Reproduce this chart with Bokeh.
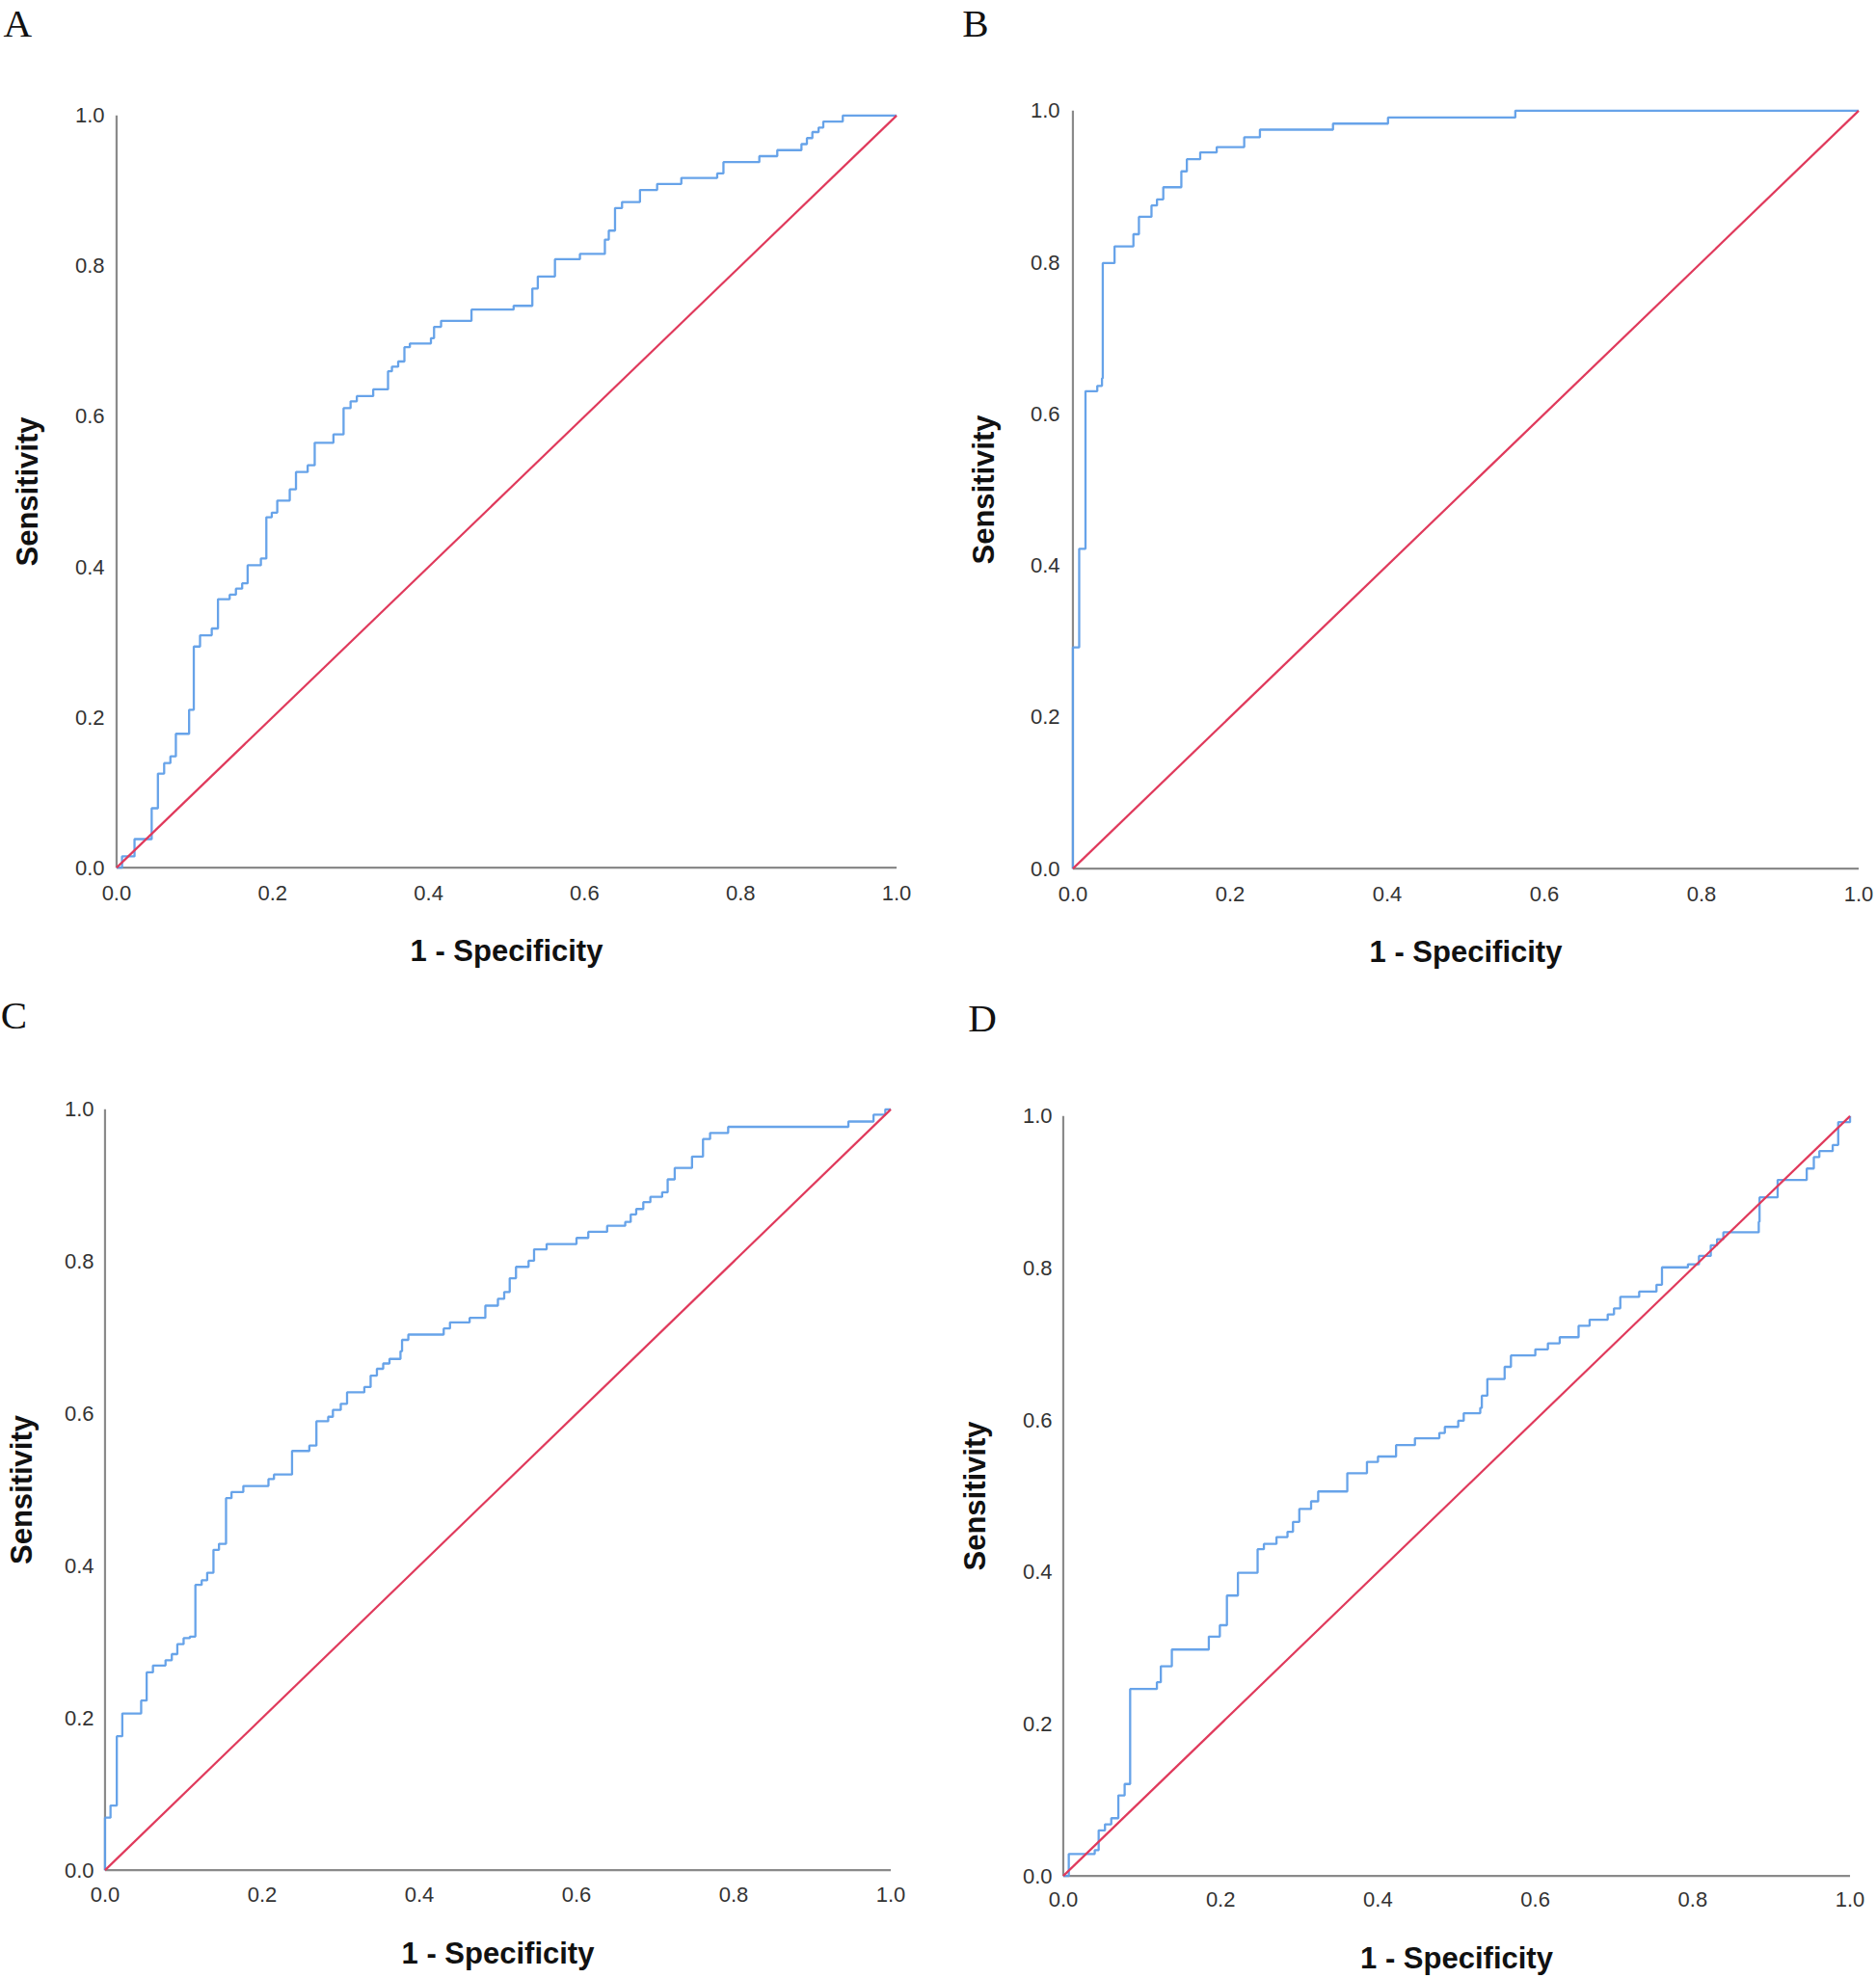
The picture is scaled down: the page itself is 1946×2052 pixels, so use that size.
from bokeh.plotting import figure
from bokeh.models import Range1d, FixedTicker, NumeralTickFormatter, Title
from bokeh.layouts import column, row
from bokeh.embed import file_html
from bokeh.resources import INLINE

# ---------------- data ----------------
ticks = [0.0, 0.2, 0.4, 0.6, 0.8, 1.0]
x_title = "1 - Specificity"
y_title = "Sensitivity"
letters = ["A", "B", "C", "D"]
ref_x = [0.0, 1.0]
ref_y = [0.0, 1.0]

A_fpr = [0.0, 0.007, 0.023, 0.045, 0.053, 0.061, 0.069, 0.076, 0.093, 0.099, 0.107, 0.122,
         0.130, 0.145, 0.153, 0.161, 0.168, 0.185, 0.192, 0.199, 0.206, 0.222, 0.230, 0.245,
         0.254, 0.278, 0.291, 0.300, 0.308, 0.329, 0.348, 0.353, 0.361, 0.369, 0.376, 0.403,
         0.407, 0.416, 0.455, 0.509, 0.533, 0.540, 0.562, 0.594, 0.626, 0.631, 0.639, 0.648,
         0.671, 0.693, 0.724, 0.770, 0.778, 0.824, 0.847, 0.878, 0.885, 0.892, 0.900, 0.906,
         0.931, 1.0]
A_tpr = [0.0, 0.015, 0.038, 0.079, 0.125, 0.139, 0.148, 0.178, 0.210, 0.294, 0.309, 0.318,
         0.357, 0.363, 0.371, 0.378, 0.402, 0.411, 0.466, 0.472, 0.488, 0.503, 0.526, 0.535,
         0.565, 0.576, 0.611, 0.620, 0.627, 0.636, 0.660, 0.666, 0.673, 0.692, 0.697, 0.704,
         0.719, 0.727, 0.742, 0.747, 0.770, 0.786, 0.809, 0.816, 0.835, 0.847, 0.877, 0.885,
         0.901, 0.909, 0.917, 0.923, 0.938, 0.946, 0.954, 0.962, 0.970, 0.978, 0.984, 0.992,
         1.0, 1.0]

B_fpr = [0.0, 0.0, 0.008, 0.016, 0.031, 0.037, 0.038, 0.053, 0.077, 0.084, 0.100, 0.107,
         0.115, 0.138, 0.145, 0.162, 0.183, 0.218, 0.238, 0.331, 0.401, 0.563, 1.0]
B_tpr = [0.0, 0.292, 0.422, 0.630, 0.637, 0.647, 0.799, 0.821, 0.837, 0.860, 0.875, 0.883,
         0.899, 0.920, 0.936, 0.945, 0.952, 0.965, 0.975, 0.983, 0.991, 1.0, 1.0]

C_fpr = [0.0, 0.0, 0.007, 0.015, 0.022, 0.046, 0.053, 0.061, 0.077, 0.085, 0.092, 0.100,
         0.108, 0.115, 0.123, 0.130, 0.138, 0.145, 0.154, 0.161, 0.176, 0.208, 0.215, 0.238,
         0.260, 0.269, 0.284, 0.290, 0.300, 0.308, 0.330, 0.338, 0.346, 0.354, 0.362, 0.376,
         0.378, 0.386, 0.431, 0.439, 0.464, 0.484, 0.500, 0.508, 0.515, 0.523, 0.539, 0.546,
         0.562, 0.600, 0.615, 0.639, 0.662, 0.669, 0.676, 0.685, 0.694, 0.709, 0.716, 0.725,
         0.747, 0.761, 0.770, 0.793, 0.946, 0.978, 0.993, 1.0]
C_tpr = [0.0, 0.069, 0.085, 0.176, 0.206, 0.223, 0.260, 0.269, 0.276, 0.284, 0.297, 0.305,
         0.307, 0.375, 0.381, 0.391, 0.421, 0.429, 0.489, 0.497, 0.505, 0.514, 0.520, 0.551,
         0.558, 0.590, 0.596, 0.605, 0.613, 0.628, 0.635, 0.650, 0.659, 0.666, 0.672, 0.682,
         0.697, 0.704, 0.712, 0.720, 0.726, 0.742, 0.751, 0.760, 0.778, 0.793, 0.801, 0.816,
         0.823, 0.831, 0.839, 0.847, 0.852, 0.862, 0.869, 0.878, 0.885, 0.891, 0.908, 0.923,
         0.938, 0.961, 0.969, 0.977, 0.984, 0.993, 1.0, 1.0]

D_fpr = [0.0, 0.007, 0.040, 0.045, 0.053, 0.061, 0.070, 0.078, 0.085, 0.119, 0.124, 0.138,
         0.185, 0.199, 0.208, 0.222, 0.247, 0.255, 0.271, 0.285, 0.292, 0.300, 0.315, 0.324,
         0.361, 0.386, 0.400, 0.423, 0.447, 0.478, 0.485, 0.502, 0.509, 0.530, 0.532, 0.539,
         0.561, 0.569, 0.600, 0.616, 0.631, 0.655, 0.669, 0.692, 0.700, 0.708, 0.732, 0.754,
         0.761, 0.794, 0.808, 0.823, 0.831, 0.839, 0.884, 0.885, 0.908, 0.945, 0.954, 0.961,
         0.978, 0.985, 1.0]
D_tpr = [0.0, 0.029, 0.034, 0.060, 0.068, 0.076, 0.106, 0.121, 0.246, 0.255, 0.276, 0.298,
         0.315, 0.330, 0.369, 0.399, 0.430, 0.437, 0.446, 0.453, 0.466, 0.483, 0.493, 0.506,
         0.530, 0.545, 0.552, 0.567, 0.576, 0.583, 0.591, 0.599, 0.609, 0.616, 0.632, 0.654,
         0.670, 0.685, 0.693, 0.701, 0.709, 0.724, 0.732, 0.739, 0.747, 0.762, 0.769, 0.778,
         0.801, 0.805, 0.816, 0.830, 0.838, 0.847, 0.861, 0.893, 0.916, 0.931, 0.946, 0.954,
         0.962, 0.992, 1.0]

# ---------------- style / layout ----------------
BLUE = "#5f9ee8"
RED = "#e03a5c"
AXIS_GRAY = "#8a8a8a"
PAD = 0.003
LETTER_H = 46  # approx. measured height of the 41px letter box


def panel(fpr, tpr, letter, ox, oy, w, h, x0, x1, y1, y0,
          xt_off, xl_off, yt_off, yl_off, let_x, let_top):
    wx = x1 - x0
    wy = y0 - y1
    fl = x0 - PAD * wx
    fr = x1 + PAD * wx
    ft = y1 - PAD * wy
    fb = y0 + PAD * wy
    mbt = int(round(ft - oy))
    p = figure(width=w, height=h,
               x_range=Range1d(-PAD, 1 + PAD), y_range=Range1d(-PAD, 1 + PAD),
               output_backend="svg", toolbar_location=None, frame_align=False,
               min_border_left=int(round(fl - ox)), min_border_right=int(round(ox + w - fr)),
               min_border_top=mbt, min_border_bottom=int(round(oy + h - fb)))
    p.outline_line_color = None
    p.background_fill_color = "white"
    p.border_fill_color = "white"
    p.xgrid.visible = False
    p.ygrid.visible = False

    # spacer between the frame and the panel letter, so the letter sits near the top edge
    spacer = max(0, mbt - LETTER_H - 1 - int(let_top) - 2)
    p.add_layout(Title(text=" ", text_font_size="1px", standoff=spacer), "above")

    p.title.text = letter
    p.title.align = "left"
    p.title.vertical_align = "top"
    p.title.offset = let_x - fl
    p.title.standoff = 0
    p.title.text_font = "Liberation Serif"
    p.title.text_font_size = "41px"
    p.title.text_font_style = "normal"
    p.title.text_color = "#111111"

    for ax in (p.xaxis, p.yaxis):
        ax.ticker = FixedTicker(ticks=ticks)
        ax.formatter = NumeralTickFormatter(format="0.0")
        ax.axis_line_color = None
        ax.major_tick_line_color = None
        ax.minor_tick_line_color = None
        ax.major_tick_out = 0
        ax.major_tick_in = 0
        ax.minor_tick_out = 0
        ax.minor_tick_in = 0
        ax.major_label_text_font = "Liberation Sans"
        ax.major_label_text_font_size = "22px"
        ax.major_label_text_color = "#333333"
        ax.axis_label_text_font = "Liberation Sans"
        ax.axis_label_text_font_size = "31px"
        ax.axis_label_text_font_style = "bold"
        ax.axis_label_text_color = "#111111"
    p.xaxis.axis_label = x_title
    p.yaxis.axis_label = y_title
    p.xaxis.major_label_standoff = xt_off
    p.xaxis.axis_label_standoff = xl_off
    p.yaxis.major_label_standoff = yt_off
    p.yaxis.axis_label_standoff = yl_off

    # axis lines along the data bounds
    p.segment(x0=[ticks[0], ticks[0]], y0=[ticks[0], ticks[0]],
              x1=[ticks[-1], ticks[0]], y1=[ticks[0], ticks[-1]],
              line_color=AXIS_GRAY, line_width=2.2)
    p.step(fpr, tpr, mode="after", line_color=BLUE, line_width=2.3, line_alpha=0.95)
    p.line(ref_x, ref_y, line_color=RED, line_width=2.2)
    return p


ROW1_H = 1024
ROW2_H = 1028
LEFT_W = 964
RIGHT_W = 982

pA = panel(A_fpr, A_tpr, letters[0], 0, 0, LEFT_W, ROW1_H,
           120.5, 929.3, 117.0, 899.5, 16, 32, 10, 29, 3, 0)
pB = panel(B_fpr, B_tpr, letters[1], LEFT_W, 0, RIGHT_W, ROW1_H,
           1112.7, 1928.0, 112.7, 901.0, 16, 32, 11, 28, 998, 0)
pC = panel(C_fpr, C_tpr, letters[2], 0, ROW1_H, LEFT_W, ROW2_H,
           108.3, 924.0, 1150.7, 1939.5, 15, 33, 9, 24, 0, 7)
pD = panel(D_fpr, D_tpr, letters[3], LEFT_W, ROW1_H, RIGHT_W, ROW2_H,
           1102.7, 1918.3, 1157.3, 1946.0, 14, 33, 9, 29, 1004, 10)

layout = column(row(pA, pB), row(pC, pD))
open("out.html", "w").write(file_html(layout, INLINE))
